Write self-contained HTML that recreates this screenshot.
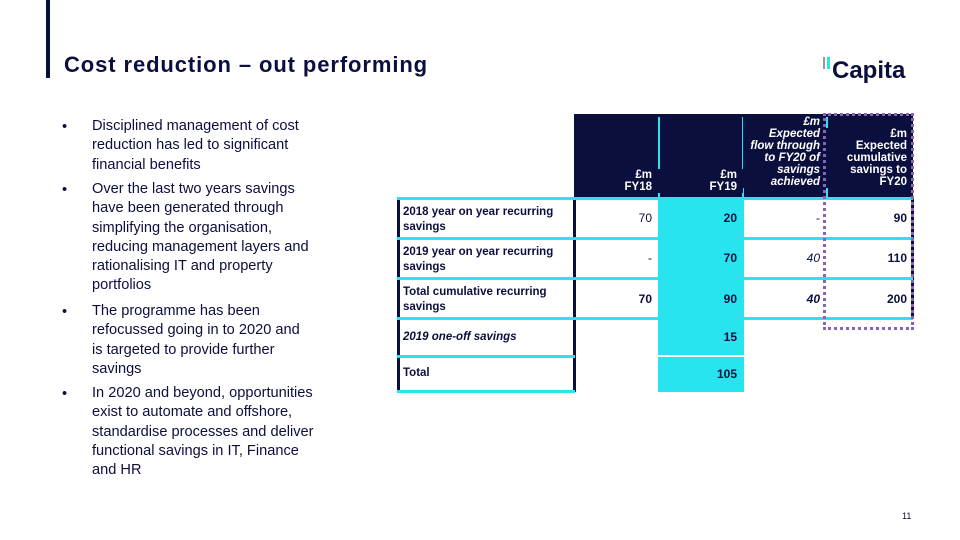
<!DOCTYPE html>
<html><head><meta charset="utf-8"><style>
*{margin:0;padding:0;box-sizing:border-box}
body{width:960px;height:540px;background:#fff;position:relative;overflow:hidden;font-family:"Liberation Sans",sans-serif;color:#0b0f3d}
.a{position:absolute}
.bl{font-size:14.6px;line-height:19.3px;color:#0b0f3d}
.c{position:absolute;font-size:12px;text-align:right;padding-right:6px}
.h{position:absolute;background:#0b0f3d;color:#fff;font-size:11.5px;line-height:12px;text-align:right;padding-right:6px;font-weight:bold}
.cy{position:absolute;background:#28e4ee}
.nv{position:absolute;background:#0b0f3d}
.lab{position:absolute;left:403px;font-size:11.5px;font-weight:bold;line-height:15px}
</style></head><body>
<div class="a" style="left:46px;top:0;width:4px;height:78px;background:#0b0f3d"></div>
<div class="a" style="left:64px;top:52px;font-size:22px;font-weight:bold;letter-spacing:0.9px">Cost reduction – out performing</div>
<div class="a" style="left:823px;top:57px;font-size:24px;font-weight:bold"><span style="display:inline-block;width:2px;height:12px;background:#999;margin-right:2px;vertical-align:9px"></span><span style="display:inline-block;width:3px;height:12px;background:#28e4ee;margin-right:2px;vertical-align:9px"></span>Capita</div>

<div>
<div class="a bl" style="left:62px;top:118px">•</div><div class="a bl" style="left:92px;top:117px;width:235px">Disciplined management of cost reduction has led to significant financial benefits</div>
<div class="a bl" style="left:62px;top:181px">•</div><div class="a bl" style="left:92px;top:180px;width:228px">Over the last two years savings have been generated through simplifying the organisation, reducing management layers and rationalising IT and property portfolios</div>
<div class="a bl" style="left:62px;top:303px">•</div><div class="a bl" style="left:92px;top:302px;width:214px">The programme has been refocussed going in to 2020 and is targeted to provide further savings</div>
<div class="a bl" style="left:62px;top:385px">•</div><div class="a bl" style="left:92px;top:384px;width:230px">In 2020 and beyond, opportunities exist to automate and offshore, standardise processes and deliver functional savings in IT, Finance and HR</div>
</div>

<div>
<div class="nv" style="left:574px;top:114px;width:339px;height:84px"></div>
<div class="cy" style="left:658px;top:198px;width:86px;height:194px"></div>
<div class="cy" style="left:658px;top:117px;width:2px;height:81px"></div>
<div class="cy" style="left:742px;top:117px;width:2px;height:81px"></div>
<div class="cy" style="left:826px;top:117px;width:2px;height:81px"></div>
<div class="h" style="left:574px;top:169px;width:84px">£m<br>FY18</div>
<div class="h" style="left:658px;top:169px;width:85px">£m<br>FY19</div>
<div class="h" style="left:743px;top:116px;width:83px;font-style:italic">£m<br>Expected flow through to FY20 of savings achieved</div>
<div class="h" style="left:826px;top:128px;width:87px">£m<br>Expected cumulative savings to FY20</div>
<div class="nv" style="left:397px;top:198px;width:3px;height:194px"></div>
<div class="nv" style="left:573px;top:198px;width:3px;height:194px"></div>
<div class="nv" style="left:911px;top:198px;width:3px;height:120px"></div>
<div class="cy" style="left:397px;top:197px;width:516px;height:3px"></div>
<div class="cy" style="left:397px;top:237px;width:516px;height:3px"></div>
<div class="cy" style="left:397px;top:277px;width:516px;height:3px"></div>
<div class="cy" style="left:397px;top:317px;width:516px;height:3px"></div>
<div class="cy" style="left:397px;top:355px;width:178px;height:3px"></div>
<div class="a" style="left:658px;top:355px;width:86px;height:2px;background:#fff"></div>
<div class="cy" style="left:397px;top:390px;width:178px;height:3px"></div>
<div class="a" style="left:823px;top:113px;width:91px;height:217px;border:3px dotted #8a62b8"></div>
<div class="lab" style="top:205px">2018 year on year recurring<br>savings</div>
<div class="lab" style="top:245px">2019 year on year recurring<br>savings</div>
<div class="lab" style="top:285px">Total cumulative recurring<br>savings</div>
<div class="lab" style="top:330px;font-style:italic">2019 one-off savings</div>
<div class="lab" style="top:366px">Total</div>
<div class="c" style="left:574px;top:211px;width:84px">70</div><div class="c" style="left:658px;top:211px;width:85px;font-weight:bold">20</div><div class="c" style="left:743px;top:211px;width:83px">-</div><div class="c" style="left:826px;top:211px;width:87px;font-weight:bold">90</div>
<div class="c" style="left:574px;top:251px;width:84px">-</div><div class="c" style="left:658px;top:251px;width:85px;font-weight:bold">70</div><div class="c" style="left:743px;top:251px;width:83px;font-style:italic">40</div><div class="c" style="left:826px;top:251px;width:87px;font-weight:bold">110</div>
<div class="c" style="left:574px;top:292px;width:84px;font-weight:bold">70</div><div class="c" style="left:658px;top:292px;width:85px;font-weight:bold">90</div><div class="c" style="left:743px;top:292px;width:83px;font-weight:bold;font-style:italic">40</div><div class="c" style="left:826px;top:292px;width:87px;font-weight:bold">200</div>
<div class="c" style="left:658px;top:330px;width:85px;font-weight:bold">15</div>
<div class="c" style="left:658px;top:367px;width:85px;font-weight:bold">105</div>
</div>
<div class="a" style="left:902px;top:511px;font-size:9px">11</div>
</body></html>
